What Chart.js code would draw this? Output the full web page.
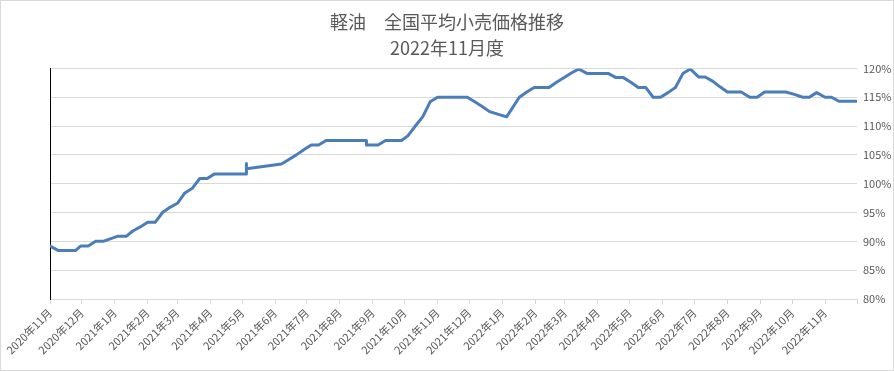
<!DOCTYPE html>
<html lang="ja">
<head>
<meta charset="utf-8">
<title>軽油 全国平均小売価格推移</title>
<script src="https://cdn.jsdelivr.net/npm/chart.js@4/dist/chart.umd.min.js"></script>
<style>
  html, body { margin: 0; padding: 0; background: #fff; }
  #wrap {
    position: absolute; left: 0; top: 0;
    width: 892px; height: 369px;
    border: 1px solid #d9d9d9;
  }
</style>
</head>
<body>
<div id="wrap"><canvas id="chart"></canvas></div>
<script>
// 調査日（週次）と指数（%）
var dates = [
    '2020-11-01', '2020-11-09', '2020-11-25', '2020-11-30', '2020-12-07', '2020-12-14', '2020-12-21',
    '2021-01-04', '2021-01-12', '2021-01-18', '2021-01-25', '2021-02-01', '2021-02-08', '2021-02-15',
    '2021-02-22', '2021-03-01', '2021-03-08', '2021-03-15', '2021-03-22', '2021-03-29', '2021-04-05',
    '2021-05-05', '2021-05-05', '2021-05-05', '2021-06-07', '2021-06-14', '2021-06-21', '2021-06-28',
    '2021-07-05', '2021-07-12', '2021-07-19', '2021-08-26', '2021-08-26', '2021-09-06', '2021-09-13',
    '2021-09-28', '2021-10-04', '2021-10-11', '2021-10-18', '2021-10-25', '2021-11-01', '2021-11-29',
    '2021-12-06', '2021-12-13', '2021-12-20', '2022-01-05', '2022-01-17', '2022-01-24', '2022-01-31',
    '2022-02-14', '2022-02-21', '2022-03-01', '2022-03-07', '2022-03-14', '2022-03-22', '2022-04-11',
    '2022-04-18', '2022-04-25', '2022-05-02', '2022-05-09', '2022-05-16', '2022-05-23', '2022-05-30',
    '2022-06-06', '2022-06-13', '2022-06-20', '2022-06-27', '2022-07-05', '2022-07-11', '2022-07-18',
    '2022-07-25', '2022-08-01', '2022-08-14', '2022-08-22', '2022-08-29', '2022-09-05', '2022-09-25',
    '2022-10-03', '2022-10-11', '2022-10-17', '2022-10-24', '2022-11-01', '2022-11-07', '2022-11-14',
    '2022-11-30'
];
var values = [
    89.2, 88.4, 88.4, 89.2, 89.2, 90.0, 90.0,
    90.9, 90.9, 91.8, 92.5, 93.3, 93.3, 95.0,
    95.9, 96.6, 98.4, 99.2, 100.9, 100.9, 101.7,
    101.7, 103.5, 102.6, 103.4, 104.2, 105.0, 105.9,
    106.7, 106.7, 107.5, 107.5, 106.7, 106.7, 107.5,
    107.5, 108.3, 110.0, 111.6, 114.2, 115.0, 115.0,
    114.2, 113.4, 112.5, 111.6, 115.0, 115.9, 116.7,
    116.7, 117.6, 118.5, 119.2, 119.9, 119.1, 119.1,
    118.4, 118.4, 117.6, 116.7, 116.7, 115.0, 115.0,
    115.8, 116.7, 119.1, 119.9, 118.5, 118.5, 117.8,
    116.8, 115.9, 115.9, 115.0, 115.0, 115.9, 115.9,
    115.5, 115.0, 115.0, 115.8, 115.0, 115.0, 114.3,
    114.3
];
var tickLabels = [
    '2020年11月', '2020年12月', '2021年1月', '2021年2月', '2021年3月', '2021年4月', '2021年5月',
    '2021年6月', '2021年7月', '2021年8月', '2021年9月', '2021年10月', '2021年11月', '2021年12月',
    '2022年1月', '2022年2月', '2022年3月', '2022年4月', '2022年5月', '2022年6月', '2022年7月',
    '2022年8月', '2022年9月', '2022年10月', '2022年11月'
];
var axisStart = '2020-11-01';
var axisEnd = '2022-12-01';

var GRAY = '#d9d9d9';
var TEXT = '#595959';

function dayNum(y, m, d) {
    return (Date.UTC(y, m - 1, d) - Date.UTC(2020, 10, 1)) / 86400000;
}
function dayOf(s) {
    var p = s.split('-');
    return dayNum(+p[0], +p[1], +p[2]);
}
function dayOfLabel(label) {
    var m = label.match(/(\d+)年(\d+)月/);
    return dayNum(+m[1], +m[2], 1);
}

var points = dates.map(function (d, i) {
    return { x: dayOf(d), y: values[i] };
});

Chart.defaults.font.family = "'Noto Sans CJK JP', 'Noto Sans', sans-serif";
Chart.defaults.color = TEXT;

var ctx = document.getElementById('chart').getContext('2d');
var chart = new Chart(ctx, {
    type: 'line',
    data: {
        datasets: [{
            data: points,
            borderColor: '#4a7ebb',
            borderWidth: 3,
            borderJoinStyle: 'round',
            borderCapStyle: 'round',
            pointRadius: 0,
            tension: 0,
            fill: false
        }]
    },
    options: {
        responsive: true,
        maintainAspectRatio: false,
        animation: false,
        layout: { padding: 0 },
        plugins: {
            legend: { display: false },
            tooltip: { enabled: false },
            title: {
                display: true,
                text: ['軽油　全国平均小売価格推移', '2022年11月度'],
                color: TEXT,
                font: { size: 18, weight: 'normal', lineHeight: 1.4 },
                padding: { top: 9, bottom: 8 }
            }
        },
        scales: {
            x: {
                type: 'linear',
                min: dayOf(axisStart),
                max: dayOf(axisEnd),
                afterBuildTicks: function (scale) {
                    var ticks = tickLabels.map(function (l) { return { value: dayOfLabel(l) }; });
                    ticks.push({ value: dayOf(axisEnd) });
                    scale.ticks = ticks;
                },
                afterFit: function (scale) { scale.height = 71; },
                grid: { drawOnChartArea: false, color: GRAY, tickLength: 5 },
                border: { color: GRAY },
                ticks: {
                    autoSkip: false,
                    minRotation: 45,
                    maxRotation: 45,
                    padding: 2,
                    font: { size: 11 },
                    callback: function (v, i) { return tickLabels[i] || ''; }
                }
            },
            y: {
                position: 'right',
                min: 80,
                max: 120,
                afterFit: function (scale) { scale.width = 36; },
                grid: { color: GRAY, drawTicks: false },
                border: { display: false },
                ticks: {
                    stepSize: 5,
                    padding: 6,
                    font: { size: 11 },
                    callback: function (v) { return v + '%'; }
                }
            },
            yLeft: {
                position: 'left',
                min: 80,
                max: 120,
                afterFit: function (scale) { scale.width = 49; },
                grid: { display: false },
                border: { color: '#000', width: 1 },
                ticks: { display: false }
            }
        }
    }
});
</script>
</body>
</html>
